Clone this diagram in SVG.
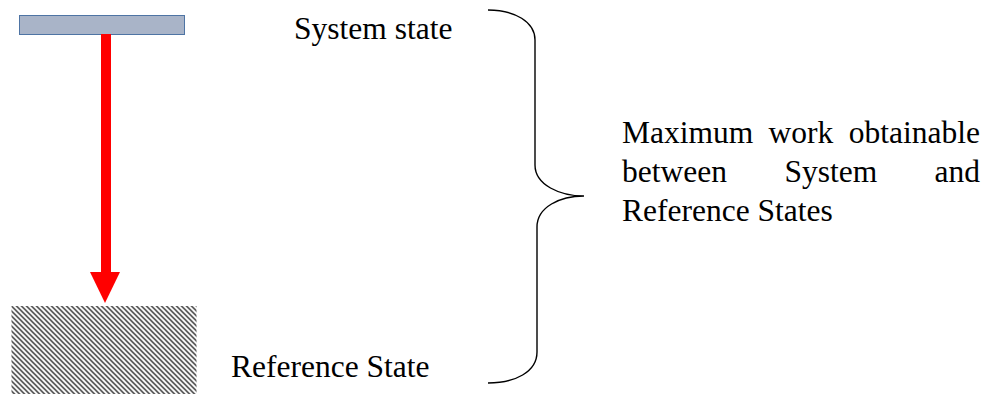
<svg xmlns="http://www.w3.org/2000/svg" width="987" height="394" viewBox="0 0 987 394">
<style>
text{font-family:"Liberation Serif","Times New Roman",serif;font-size:31.5px;fill:#000}
.brace{fill:none;stroke:#000;stroke-width:1.4}
</style>
<defs>
<pattern id="hatch" patternUnits="userSpaceOnUse" width="5" height="5" x="11.5" y="306">
<path d="M0,0 L5,5 M-1,4 L1,6 M4,-1 L6,1" stroke="#262626" stroke-width="1.3" fill="none"/>
</pattern>
</defs>
<rect width="987" height="394" fill="#fff"/>
<g id="system-state">
<rect x="19.5" y="15.5" width="165" height="19" fill="#A9B4C8" stroke="#4E74A4" stroke-width="1"/>
<text x="294" y="39">System state</text>
</g>
<g id="reference-state">
<rect x="11.5" y="306" width="185" height="88" fill="url(#hatch)"/>
<text x="231" y="377">Reference State</text>
</g>
<g id="connectors">
<rect x="101" y="34" width="10" height="239" fill="#FF0000"/>
<polygon points="90,272 120,272 105,303" fill="#FF0000"/>
<path class="brace" d="M488,10 C515,10 535,22 535,40 L535,165 C535,185 560,196 584,196 C560,196 537,207 537,227 L537,352 C537,372 515,383 488,383"/>
</g>
<g id="label">
<text y="143"><tspan x="622">Maximum</tspan><tspan x="768.5">work</tspan><tspan x="980" text-anchor="end">obtainable</tspan></text>
<text y="182"><tspan x="622">between</tspan><tspan x="784.5">System</tspan><tspan x="980" text-anchor="end">and</tspan></text>
<text x="622" y="221">Reference States</text>
</g>
</svg>
